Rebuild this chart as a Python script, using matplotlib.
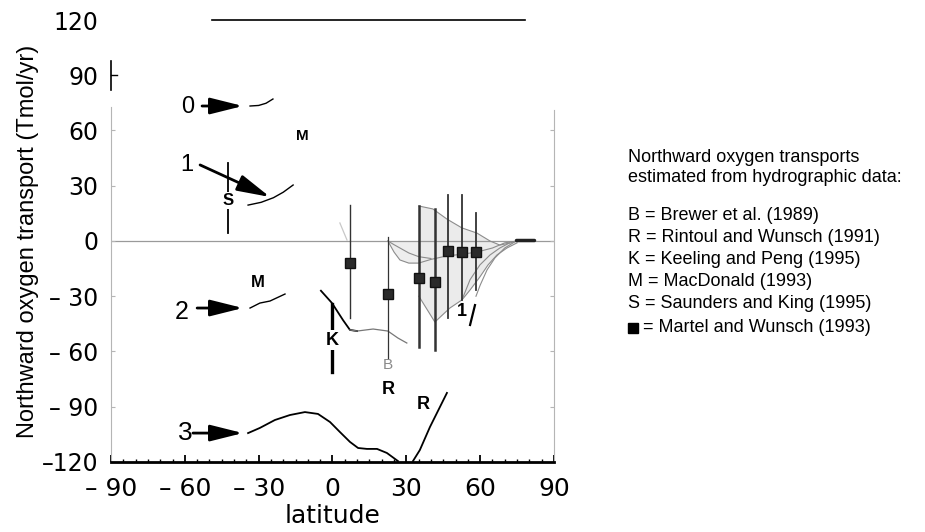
import numpy as np
import matplotlib
matplotlib.use('Agg')
import matplotlib.pyplot as plt
from matplotlib.lines import Line2D

# model curves, northward O2 transport (Tmol/yr) against latitude
run0_lat = [-33.5, -30.0, -27.0, -24.2]
run0_o2 = [73.3, 73.6, 74.8, 77.1]
run1_lat = [-34.3, -29.0, -24.0, -20.0, -16.0]
run1_o2 = [19.5, 21.0, 23.5, 26.5, 30.4]
run2_lat = [-33.5, -29.5, -25.4, -19.3]
run2_o2 = [-36.4, -33.7, -32.6, -28.8]
run3_lat = [-34.3, -29.5, -23.4, -17.3, -11.2, -5.9, -1.0, 3.0, 7.1, 10.4,
            14.0, 18.1, 22.1, 26.6]
run3_o2 = [-104.3, -101.5, -97.2, -94.5, -92.9, -93.9, -98.3, -103.7, -109.1,
           -112.4, -112.9, -112.9, -115.1, -119.5]

# hydrographic estimates
rintoul_lat = [32.7, 35.5, 39.6, 46.5]
rintoul_o2 = [-119.5, -113.5, -101.0, -82.5]
keeling_lat = [-4.7, -0.2, 4.3, 7.1, 10.0]
keeling_o2 = [-27.0, -33.7, -43.0, -48.3, -48.9]
keeling_tail_lat = [7.1, 10.0, 16.5, 22.5, 26.6, 30.2]
keeling_tail_o2 = [-48.3, -48.9, -47.8, -48.9, -52.7, -55.4]
saunders_lat = -42.5
saunders_range = [4.3, 42.4]
keeling_bar_lat = -0.2
keeling_range = [-71.0, -34.0]

# Martel and Wunsch boxes with their error bars
mw_lat = [7.0, 22.5, 35.1, 41.6, 46.9, 52.6, 58.3]
mw_o2 = [-12.0, -29.0, -20.0, -22.0, -5.5, -6.0, -6.0]
mw_hi = [19.5, 2.2, 19.0, 17.4, 25.0, 25.0, 15.2]
mw_lo = [-41.8, -63.5, -57.5, -59.0, -41.8, -32.0, -26.6]
mw_lw = [1.0, 0.9, 1.8, 1.8, 1.3, 1.3, 1.3]

# envelope of the northern inverse solutions
env_up_lat = [35.1, 40.8, 46.5, 52.6, 58.7, 64.0, 68.0, 72.1, 75.0]
env_up_o2 = [19.0, 17.4, 11.9, 7.1, 4.3, 0.0, -2.2, -1.1, 0.0]
env_lo_lat = [35.1, 41.6, 47.7, 52.6, 55.9, 59.9, 63.2, 66.8, 70.9, 75.0]
env_lo_o2 = [-30.0, -44.0, -36.4, -32.0, -26.6, -19.5, -13.0, -7.6, -3.8, -1.0]
solA_lat = [22.5, 25.0, 27.4, 31.0, 35.0, 40.0, 46.5, 52.6, 58.7, 65.0, 70.0, 75.0]
solA_o2 = [0.0, -6.0, -10.3, -12.0, -12.0, -10.0, -8.1, -7.2, -6.0, -3.8, -1.0, 0.0]
solB_lat = [22.5, 25.0, 27.4, 31.0, 35.0, 40.0]
solB_o2 = [0.0, -2.0, -3.8, -6.5, -8.5, -9.5]
solC_lat = [52.6, 55.9, 59.9, 64.0, 68.0, 72.0]
solC_o2 = [-32.0, -21.0, -13.0, -7.6, -3.8, -1.0]
solD_lat = [58.3, 60.0, 62.8, 66.0, 70.0, 74.0]
solD_o2 = [-30.0, -24.0, -15.7, -9.2, -3.8, -0.5]

xticks = [-90, -60, -30, 0, 30, 60, 90]
xticklabels = ['\u2013 90', '\u2013 60', '\u2013 30', '0', '30', '60', '90']
yticks = [-120, -90, -60, -30, 0, 30, 60, 90, 120]
yticklabels = ['\u2013120', '\u2013 90', '\u2013 60', '\u2013 30', '0', '30', '60', '90', '120']

legend_head = ['Northward oxygen transports',
               'estimated from hydrographic data:']
legend_rows = ['B = Brewer et al. (1989)',
               'R = Rintoul and Wunsch (1991)',
               'K = Keeling and Peng (1995)',
               'M = MacDonald (1993)',
               'S = Saunders and King (1995)',
               '= Martel and Wunsch (1993)']

TXT = ['Liberation Sans', 'DejaVu Sans']

fig = plt.figure(figsize=(9.25, 5.32), dpi=100)
ax = fig.add_axes([0.12, 0.1316, 0.4789, 0.8308])
ax.set_xlim(-90, 90)
ax.set_ylim(-120, 120)

# frame: heavy bottom, faint sides, no top spine
ax.spines['top'].set_visible(False)
ax.spines['bottom'].set_linewidth(2.0)
ax.spines['left'].set_color('#b5b5b5')
ax.spines['left'].set_linewidth(0.8)
ax.spines['left'].set_bounds(-120, 73)
ax.spines['right'].set_color('#b5b5b5')
ax.spines['right'].set_linewidth(0.8)
ax.spines['right'].set_bounds(-120, 71)
ax.plot([-90, -90], [82, 98], color='k', lw=1.2, clip_on=False)
ax.plot([-90, -87.5], [90, 90], color='k', lw=1.0, clip_on=False)
ax.plot([-49, 78.2], [120, 120], color='k', lw=1.2, clip_on=False)

ax.set_xticks(xticks)
ax.set_xticklabels(xticklabels, fontsize=18)
ax.set_xticks(np.arange(-85, 90, 5), minor=True)
ax.tick_params(axis='x', which='major', direction='in', length=5, width=1.3,
               pad=11)
ax.tick_params(axis='x', which='minor', direction='in', length=2.5, width=1.0)
ax.set_yticks(yticks)
ax.set_yticklabels(yticklabels, fontsize=17)
ax.tick_params(axis='y', direction='in', length=3, width=0.8,
               color='#b5b5b5', right=True, pad=9)
for tk, v in zip(ax.yaxis.get_major_ticks(), yticks):
    if v == -120 or v >= 90:
        tk.tick2line.set_visible(False)
    if v == -120 or v >= 90:
        tk.tick1line.set_visible(False)

ax.set_xlabel('latitude', fontsize=18, labelpad=2)
ax.set_ylabel('Northward oxygen transport (Tmol/yr)', fontsize=17,
              family=TXT, labelpad=2)

ax.axhline(0, color='#9a9a9a', lw=0.9, zorder=1)

# shaded band of the inverse solutions
ax.fill(np.r_[env_up_lat, env_lo_lat[::-1]], np.r_[env_up_o2, env_lo_o2[::-1]],
        color='#ebebeb', lw=0, zorder=0)
ax.fill_between(solA_lat[:5], 0, solA_o2[:5], color='#eeeeee', lw=0, zorder=0)
for lat, o2 in [(env_up_lat, env_up_o2), (env_lo_lat, env_lo_o2),
                (solA_lat, solA_o2), (solB_lat, solB_o2),
                (solC_lat, solC_o2), (solD_lat, solD_o2)]:
    ax.plot(lat, o2, color='#8c8c8c', lw=0.8, zorder=2)
ax.plot([74.5, 82], [0.6, 0.6], color='#222222', lw=2.5,
        solid_capstyle='round', zorder=3)

# model runs
ax.plot(run0_lat, run0_o2, color='k', lw=1.0)
ax.plot(run1_lat, run1_o2, color='k', lw=1.0)
ax.plot(run2_lat, run2_o2, color='k', lw=1.0)
ax.plot(run3_lat, run3_o2, color='k', lw=1.3)

ax.plot(rintoul_lat, rintoul_o2, color='k', lw=1.3)
ax.plot(keeling_lat, keeling_o2, color='k', lw=1.3)
ax.plot(keeling_tail_lat, keeling_tail_o2, color='#777777', lw=0.9)
ax.plot([3.0, 5.9], [9.8, 0.5], color='#c8c8c8', lw=0.9)

# error bars and boxes
for x, y, lo, hi, lw in zip(mw_lat, mw_o2, mw_lo, mw_hi, mw_lw):
    ax.plot([x, x], [lo, hi], color='#333333', lw=lw, zorder=4)
    ax.plot(x, y, 's', color='#2a2a2a', ms=7, mec='#111111', zorder=5)

ax.plot([saunders_lat] * 2, saunders_range, color='k', lw=1.3, zorder=4)
ax.text(saunders_lat, 22.0, 'S', fontsize=12, family=TXT, weight='bold',
        ha='center', va='center', zorder=6,
        bbox=dict(fc='white', ec='none', pad=0.5))
ax.plot([keeling_bar_lat] * 2, keeling_range, color='k', lw=2.4, zorder=4)
ax.text(keeling_bar_lat, -53.8, 'K', fontsize=13, family=TXT, weight='bold',
        ha='center', va='center', zorder=6,
        bbox=dict(fc='white', ec='none', pad=1.0))

letters = [('M', -12.4, 57.0, 11), ('M', -30.3, -22.8, 12),
           ('R', 22.5, -80.4, 13), ('R', 36.8, -89.0, 13)]
for s, x, y, fs in letters:
    ax.text(x, y, s, fontsize=fs, family=TXT, weight='bold',
            ha='center', va='center')
ax.text(22.5, -67.3, 'B', fontsize=11, family=TXT, color='#8a8a8a',
        ha='center', va='center')
ax.text(52.6, -38.5, '1', fontsize=13, family=TXT, weight='bold',
        ha='center', va='center')
ax.plot([55.9, 57.9], [-45.6, -34.8], color='k', lw=1.6)

# run numbers with arrows
arrow_kw = dict(arrowstyle='-|>,head_length=2.0,head_width=0.5', color='k',
                lw=2.0, shrinkA=0, shrinkB=0, mutation_scale=10)
runs = [('0', -58.7, 72.5, -53.0, 73.3, -36.4, 73.3, 17),
        ('1', -59.1, 41.3, -53.8, 41.3, -25.4, 23.9, 17),
        ('2', -61.2, -38.5, -55.0, -36.4, -36.4, -36.4, 18),
        ('3', -60.0, -104.3, -56.7, -104.3, -36.4, -104.3, 19)]
for s, tx, ty, x0, y0, x1, y1, fs in runs:
    ax.text(tx, ty, s, fontsize=fs, family=TXT, ha='center', va='center')
    ax.annotate('', xy=(x1, y1), xytext=(x0, y0), arrowprops=arrow_kw)

# legend block on the right
for i, s in enumerate(legend_head):
    fig.text(628 / 925, 1 - (157 + 21 * i) / 532, s, fontsize=13,
             family=TXT, va='center')
for i, s in enumerate(legend_rows[:5]):
    fig.text(628 / 925, 1 - (215 + 22 * i) / 532, s, fontsize=13,
             family=TXT, va='center')
fig.add_artist(Line2D([633 / 925], [1 - 328 / 532], marker='s', ms=7.5,
                      color='k', transform=fig.transFigure))
fig.text(643 / 925, 1 - 328 / 532, legend_rows[5], fontsize=13, family=TXT,
         va='center')

fig.savefig('out.png', dpi=100)
plt.close()
